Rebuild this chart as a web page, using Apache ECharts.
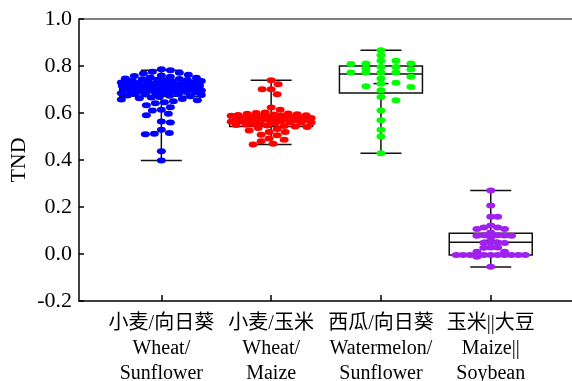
<!DOCTYPE html>
<html>
<head>
<meta charset="utf-8">
<script src="https://cdn.jsdelivr.net/npm/echarts@6/dist/echarts.min.js"></script>
<style>
  html, body { margin: 0; padding: 0; background: #fff; }
  #chart { width: 572px; height: 381px; }
</style>
</head>
<body>
<div id="chart"></div>
<script>
// Cropping systems
const categoriesZh = ['小麦/向日葵', '小麦/玉米', '西瓜/向日葵', '玉米||大豆'];
const categoriesEn = [['Wheat/', 'Sunflower'], ['Wheat/', 'Maize'], ['Watermelon/', 'Sunflower'], ['Maize||', 'Soybean']];
const yTicks = [-0.2, 0.0, 0.2, 0.4, 0.6, 0.8, 1.0];

// TND observations per system
const wheatSunflower = [
  0.786, 0.782, 0.776, 0.771, 0.768, 0.763, 0.760, 0.757, 0.754, 0.751,
  0.750, 0.747, 0.745, 0.744, 0.742, 0.740, 0.739, 0.737, 0.736, 0.734,
  0.733, 0.731, 0.730, 0.728, 0.727, 0.726, 0.724, 0.723, 0.722, 0.721,
  0.720, 0.719, 0.718, 0.717, 0.716, 0.715, 0.714, 0.713, 0.712, 0.711,
  0.710, 0.709, 0.708, 0.707, 0.706, 0.705, 0.704, 0.703, 0.702, 0.701,
  0.700, 0.699, 0.698, 0.697, 0.696, 0.695, 0.693, 0.692, 0.690, 0.689,
  0.688, 0.686, 0.685, 0.684, 0.682, 0.680, 0.679, 0.677, 0.675, 0.673,
  0.671, 0.668, 0.666, 0.663, 0.660, 0.657, 0.654, 0.650, 0.646, 0.641,
  0.633, 0.625, 0.614, 0.611, 0.597, 0.590, 0.564, 0.560, 0.529, 0.515,
  0.512, 0.510, 0.437, 0.398
];
const wheatMaize = [
  0.739, 0.722, 0.701, 0.701, 0.680, 0.623, 0.614,
  0.602, 0.600, 0.598, 0.597, 0.595, 0.594, 0.592, 0.590, 0.589, 0.588,
  0.586, 0.585, 0.584, 0.582, 0.581, 0.580, 0.579, 0.578, 0.576, 0.575,
  0.574, 0.572, 0.571, 0.570, 0.568, 0.567, 0.566, 0.565, 0.563, 0.561,
  0.560, 0.558, 0.556, 0.555, 0.553, 0.551, 0.549, 0.547, 0.545, 0.543,
  0.540, 0.536, 0.532,
  0.526, 0.519, 0.519, 0.507, 0.505, 0.492, 0.486, 0.480, 0.469, 0.466
];
const watermelonSunflower = [
  0.867, 0.846, 0.822, 0.822, 0.811, 0.811, 0.808, 0.796, 0.796, 0.789,
  0.785, 0.772, 0.772, 0.772, 0.772, 0.754, 0.747, 0.729, 0.725, 0.714,
  0.711, 0.697, 0.668, 0.654, 0.611, 0.569, 0.529, 0.500, 0.429
];
const maizeSoybean = [
  0.270, 0.206, 0.159, 0.159, 0.121, 0.113, 0.113, 0.106, 0.106, 0.092,
  0.080, 0.080, 0.079, 0.078, 0.078, 0.070, 0.049, 0.049, 0.048, 0.047,
  0.028, 0.028, 0.027, 0.010, 0.010, -0.004, -0.004, -0.004, -0.004, -0.004,
  -0.004, -0.004, -0.004, -0.004, -0.004, -0.012, -0.054
];

// Box statistics: [min, Q1, median, Q3, max, mean]
const boxStats = [
  [0.398, 0.671, 0.700, 0.714, 0.782, 0.685],
  [0.466, 0.543, 0.566, 0.583, 0.739, 0.571],
  [0.429, 0.685, 0.766, 0.800, 0.867, 0.725],
  [-0.055, -0.004, 0.050, 0.088, 0.270, 0.058]
];

const groups = [wheatSunflower, wheatMaize, watermelonSunflower, maizeSoybean];
const colors = ['#0000FF', '#FF0000', '#00FF00', '#A020F0'];

const W = 572, H = 381;
const GRID = { left: 79, right: 0, top: 19, bottom: 80 };
const X_MIN = 0.25, X_MAX = 4.74;
const Y_MIN = -0.2, Y_MAX = 1.0;
const xScale = (W - GRID.left - GRID.right) / (X_MAX - X_MIN);
const yScale = (H - GRID.top - GRID.bottom) / (Y_MAX - Y_MIN);

const BOX_W = 83, CAP_W = 41, MEAN_W = 15;
const DOT = [9, 6];
const SWARM_SPAN = 76;   // horizontal room for the dots, px
const ROW_GAP = 4.5;     // dots closer than this vertically share a row, px

// Beeswarm layout. Sparse groups sit on evenly spaced columns; dense groups
// are packed freely (1 px steps) and spill over evenly once the box is full.
function swarm(values) {
  const ys = values.map(v => v * yScale);
  let maxRow = 1;
  ys.forEach(y => {
    const n = ys.filter(o => Math.abs(o - y) < ROW_GAP / 2 + 0.3).length;
    if (n > maxRow) maxRow = n;
  });
  const colStep = Math.min(15, SWARM_SPAN / maxRow);
  const dense = colStep < 5.5;
  const step = dense ? 1 : colStep;
  const kMax = Math.floor((SWARM_SPAN / 2 + 2) / step);
  const cols = [0];
  for (let k = 1; k <= kMax; k++) cols.push(k, -k);

  const hit = (p, x, y) => {
    if (!dense) return Math.abs(p.x - x) < 0.5 && Math.abs(p.y - y) < ROW_GAP;
    const dx = (p.x - x) / DOT[0], dy = (p.y - y) / DOT[1];
    return dx * dx + dy * dy < 1;
  };

  const order = values.map((v, i) => i).sort((a, b) => values[b] - values[a]);
  const placed = [];
  const out = new Array(values.length);
  for (const i of order) {
    const y = ys[i];
    let best = null;
    for (const c of cols) {
      const x = c * step;
      if (!placed.some(p => hit(p, x, y))) { best = x; break; }
    }
    if (best === null) {
      let bestScore = -1;
      for (const c of cols) {
        const x = c * step;
        let d = Infinity;
        for (const p of placed) {
          const dx = (p.x - x) / DOT[0], dy = (p.y - y) / DOT[1];
          d = Math.min(d, dx * dx + dy * dy);
        }
        if (d > bestScore) { bestScore = d; best = x; }
      }
    }
    placed.push({ x: best, y });
    out[i] = best;
  }
  return out;
}

const scatterSeries = groups.map((vals, g) => {
  const offs = swarm(vals);
  return {
    type: 'scatter',
    xAxisIndex: 0,
    symbol: 'circle',
    symbolSize: DOT,
    z: 5,
    itemStyle: { color: colors[g], opacity: 1 },
    data: vals.map((v, i) => [g + 1 + offs[i] / xScale, v])
  };
});

const boxSeries = {
  type: 'custom',
  xAxisIndex: 0,
  z: 3,
  data: boxStats.map((s, i) => [i + 1].concat(s)),
  renderItem: function (params, api) {
    const x = api.value(0);
    const pMin = api.coord([x, api.value(1)]);
    const pQ1 = api.coord([x, api.value(2)]);
    const pMed = api.coord([x, api.value(3)]);
    const pQ3 = api.coord([x, api.value(4)]);
    const pMax = api.coord([x, api.value(5)]);
    const pMean = api.coord([x, api.value(6)]);
    const cx = pMed[0];
    const ln = { stroke: '#111', lineWidth: 1.5, fill: null };
    const line = (x1, y1, x2, y2) => ({ type: 'line', shape: { x1, y1, x2, y2 }, style: ln });
    return {
      type: 'group',
      children: [
        line(cx, pQ3[1], cx, pMax[1]),
        line(cx, pQ1[1], cx, pMin[1]),
        line(cx - CAP_W / 2, pMax[1], cx + CAP_W / 2, pMax[1]),
        line(cx - CAP_W / 2, pMin[1], cx + CAP_W / 2, pMin[1]),
        { type: 'rect', shape: { x: cx - BOX_W / 2, y: pQ3[1], width: BOX_W, height: pQ1[1] - pQ3[1] },
          style: { stroke: '#111', lineWidth: 1.5, fill: '#fff' } },
        line(cx - BOX_W / 2, pMed[1], cx + BOX_W / 2, pMed[1]),
        line(cx - MEAN_W / 2, pMean[1], cx + MEAN_W / 2, pMean[1])
      ]
    };
  }
};

const FONT = "'Liberation Serif', 'Times New Roman', 'Noto Sans CJK SC', serif";

const option = {
  backgroundColor: '#fff',
  animation: false,
  grid: Object.assign({ outerBoundsMode: 'none', containLabel: false }, GRID),
  xAxis: [
    {
      type: 'value', position: 'bottom', min: X_MIN, max: X_MAX,
      splitLine: { show: false },
      axisLine: { show: true, onZero: false, lineStyle: { color: '#000', width: 1.5 } },
      axisTick: { show: true, inside: true, length: 6, customValues: [1, 2, 3, 4], lineStyle: { color: '#000', width: 1.5 } },
      axisLabel: {
        customValues: [1, 2, 3, 4],
        margin: 10,
        color: '#000',
        fontFamily: FONT,
        fontSize: 20,
        lineHeight: 25,
        formatter: function (v) {
          const i = Math.round(v) - 1;
          return categoriesZh[i] + '\n' + categoriesEn[i].join('\n');
        }
      }
    },
    {
      type: 'value', position: 'top', min: X_MIN, max: X_MAX,
      splitLine: { show: false },
      axisLine: { show: true, onZero: false, lineStyle: { color: '#555', width: 1.5 } },
      axisTick: { show: false },
      axisLabel: { show: false }
    }
  ],
  yAxis: {
    type: 'value', min: Y_MIN, max: Y_MAX, interval: 0.2,
    name: 'TND', nameLocation: 'middle', nameGap: 49, nameRotate: 90,
    nameMoveOverlap: false,
    nameTextStyle: { color: '#000', fontFamily: FONT, fontSize: 22 },
    splitLine: { show: false },
    axisLine: { show: true, onZero: false, lineStyle: { color: '#000', width: 1.5 } },
    axisTick: { show: true, inside: true, length: 5, lineStyle: { color: '#000', width: 1.5 } },
    axisLabel: {
      color: '#000', fontFamily: FONT, fontSize: 22, margin: 7,
      customValues: yTicks,
      formatter: v => v.toFixed(1)
    }
  },
  series: [boxSeries].concat(scatterSeries)
};

const chart = echarts.init(document.getElementById('chart'), null, { renderer: 'canvas', width: W, height: H });
chart.setOption(option);
</script>
</body>
</html>
